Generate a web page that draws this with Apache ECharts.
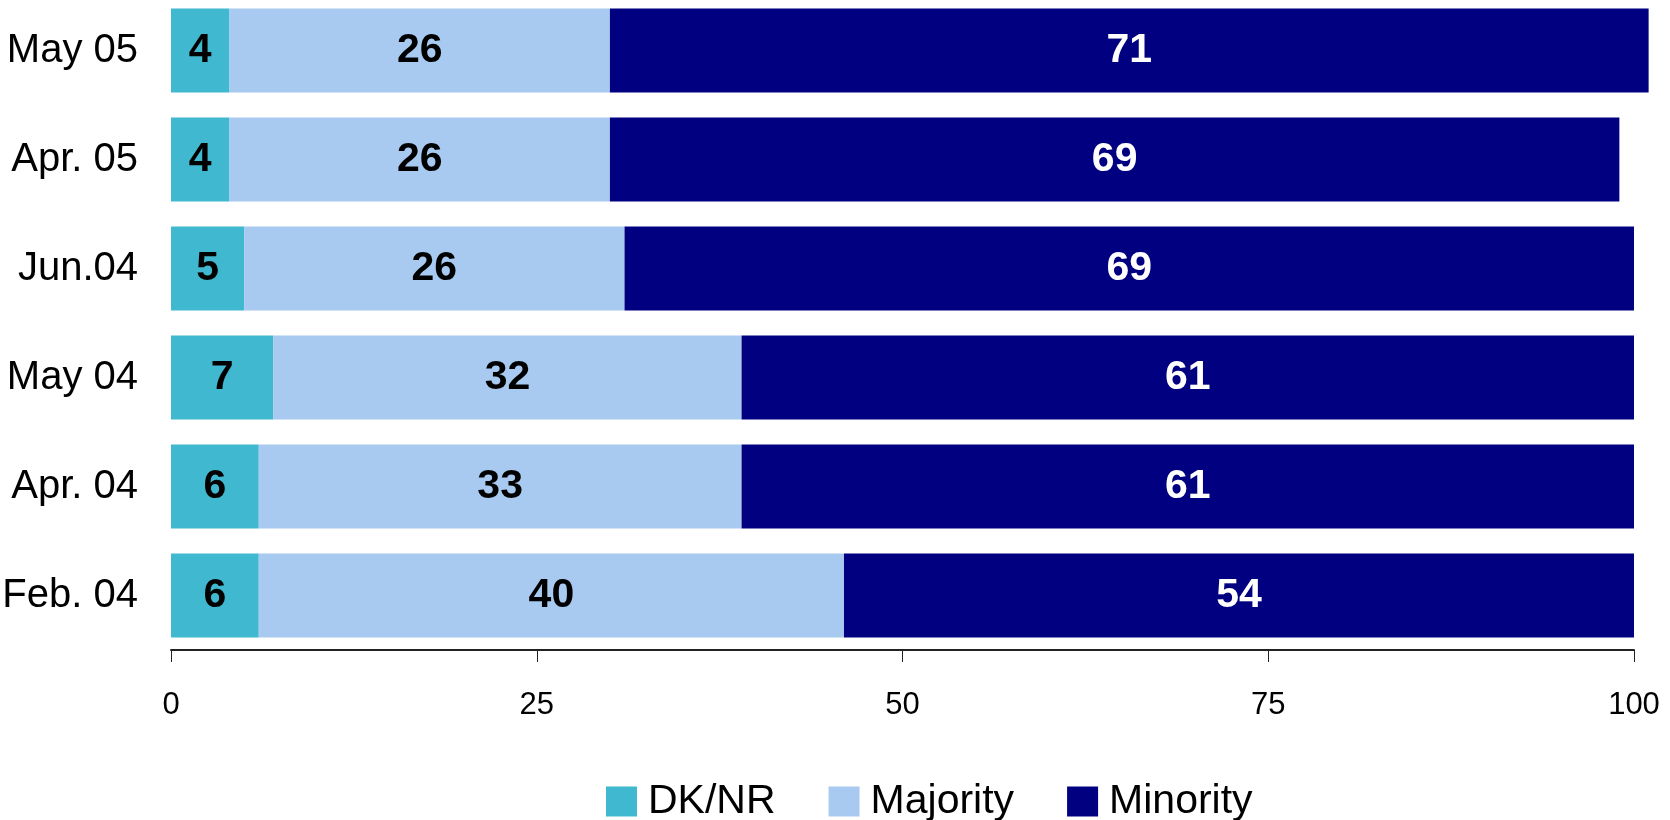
<!DOCTYPE html>
<html>
<head>
<meta charset="utf-8">
<script src="https://cdn.jsdelivr.net/npm/echarts@6/dist/echarts.min.js"></script>
<style>
    html, body { margin: 0; padding: 0; background: #fff; }
    #chart { width: 1670px; height: 820px; }
</style>
</head>
<body>
<div id="chart"></div>
<script>
    // survey waves, top to bottom
    var categories = ['May 05', 'Apr. 05', 'Jun.04', 'May 04', 'Apr. 04', 'Feb. 04'];
    var dknr = [4, 4, 5, 7, 6, 6];
    var majority = [26, 26, 26, 32, 33, 40];
    var minority = [71, 69, 69, 61, 61, 54];
    var xTicks = [0, 25, 50, 75, 100];

    var font = '"Liberation Sans", Arial, sans-serif';

    function makeSeries(name, data, color, labelColor) {
        return {
            name: name,
            type: 'bar',
            stack: 'all',
            barWidth: 84,
            clip: false,
            data: data,
            itemStyle: { color: color },
            label: {
                show: true,
                position: 'inside',
                color: labelColor,
                fontFamily: font,
                fontWeight: 'bold',
                fontSize: 41
            }
        };
    }

    var chart = echarts.init(document.getElementById('chart'));
    chart.setOption({
        animation: false,
        grid: { left: 171, right: 36, top: -4, bottom: 170, containLabel: false, outerBoundsMode: 'none' },
        legend: {
            left: 601,
            top: 776,
            itemWidth: 31,
            itemHeight: 30,
            itemGap: 53,
            icon: 'rect',
            textStyle: { fontFamily: font, fontSize: 41, color: '#000', padding: [0, 0, 0, 6] },
            data: ['DK/NR', 'Majority', 'Minority']
        },
        xAxis: {
            type: 'value',
            min: xTicks[0],
            max: xTicks[xTicks.length - 1],
            interval: 25,
            splitLine: { show: false },
            axisLine: { show: true, lineStyle: { color: '#222', width: 2 } },
            axisTick: { show: true, length: 12, lineStyle: { color: '#222', width: 1 } },
            axisLabel: { fontFamily: font, fontSize: 31, color: '#000', margin: 40 }
        },
        yAxis: {
            type: 'category',
            inverse: true,
            data: categories,
            axisLine: { show: false },
            axisTick: { show: false },
            axisLabel: { fontFamily: font, fontSize: 40, color: '#000', margin: 33 }
        },
        series: [
            makeSeries('DK/NR', dknr, '#40B8D0', '#000'),
            makeSeries('Majority', majority, '#A8CAF0', '#000'),
            makeSeries('Minority', minority, '#000080', '#fff')
        ]
    });
</script>
</body>
</html>
